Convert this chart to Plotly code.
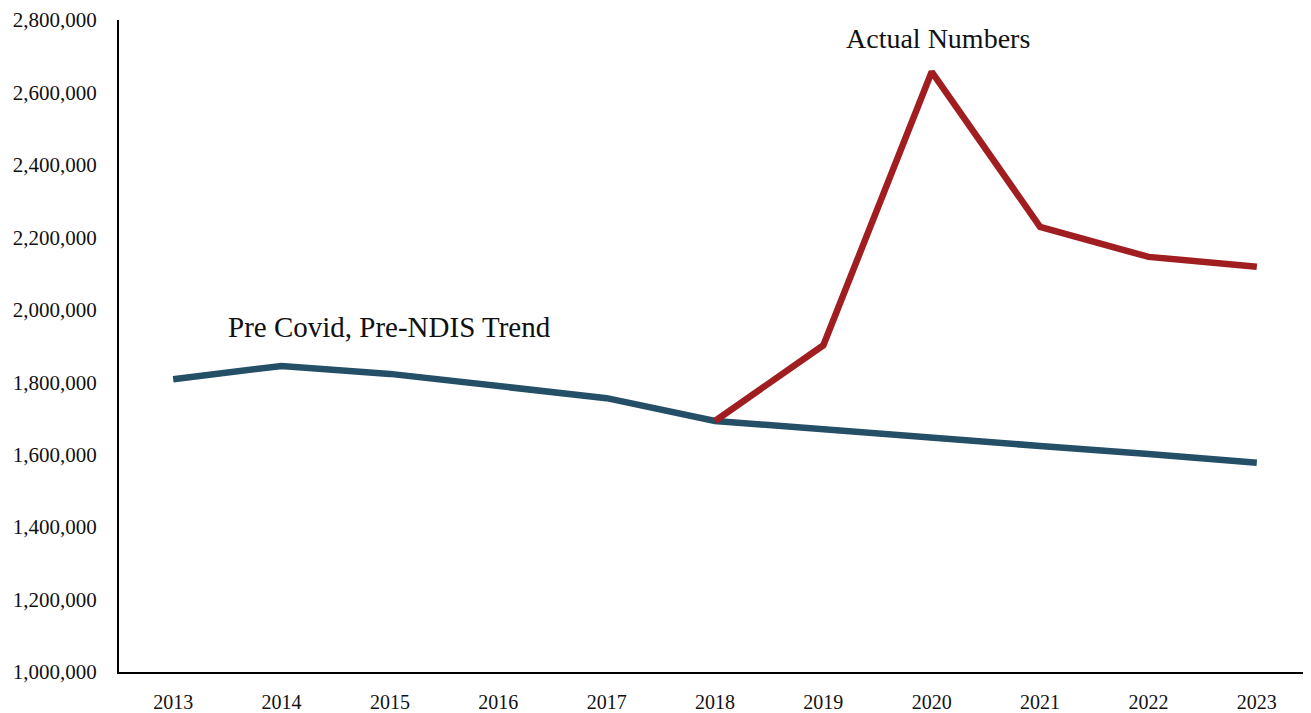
import plotly.graph_objects as go

years = ["2013", "2014", "2015", "2016", "2017", "2018", "2019", "2020", "2021", "2022", "2023"]
trend = [1808000, 1845000, 1823000, 1790000, 1756000, 1693000, 1669000, 1647000, 1624000, 1602000, 1578000]
actual_years = ["2018", "2019", "2020", "2021", "2022", "2023"]
actual = [1693000, 1902000, 2657000, 2229000, 2146000, 2119000]
y_ticks = [1000000, 1200000, 1400000, 1600000, 1800000, 2000000, 2200000, 2400000, 2600000, 2800000]

FONT = "Liberation Serif"

fig = go.Figure()
fig.add_trace(go.Scatter(x=years, y=trend, mode="lines",
                         line=dict(color="#244F66", width=6.5), hoverinfo="skip"))
fig.add_trace(go.Scatter(x=actual_years, y=actual, mode="lines",
                         line=dict(color="#A01D20", width=6.5), hoverinfo="skip"))

fig.add_annotation(x=7.06, y=2750000, xref="x", yref="y", text="Actual Numbers",
                   showarrow=False, font=dict(family=FONT, size=28, color="#111"))
fig.add_annotation(x=2.0, y=1952000, xref="x", yref="y", text="Pre Covid, Pre-NDIS Trend",
                   showarrow=False, font=dict(family=FONT, size=29, color="#111"))

fig.update_layout(
    width=1303, height=705,
    margin=dict(l=111, r=0, t=12, b=38),
    paper_bgcolor="white", plot_bgcolor="white",
    showlegend=False,
    font=dict(family=FONT, size=21, color="#111"),
    xaxis=dict(type="category", categoryorder="array", categoryarray=years,
               range=[-0.5, 10.5], showgrid=False, zeroline=False,
               showline=True, linecolor="black", linewidth=2,
               ticks="outside", ticklen=11, tickcolor="rgba(0,0,0,0)",
               tickfont=dict(family=FONT, size=20)),
    yaxis=dict(range=[1000000, 2800000], tickvals=y_ticks,
               ticktext=[f"{v:,}" for v in y_ticks],
               showgrid=False, zeroline=False,
               showline=True, linecolor="black", linewidth=2,
               ticks="outside", ticklen=16, tickcolor="rgba(0,0,0,0)",
               tickfont=dict(family=FONT, size=21)),
)

fig.write_html("out.html")
